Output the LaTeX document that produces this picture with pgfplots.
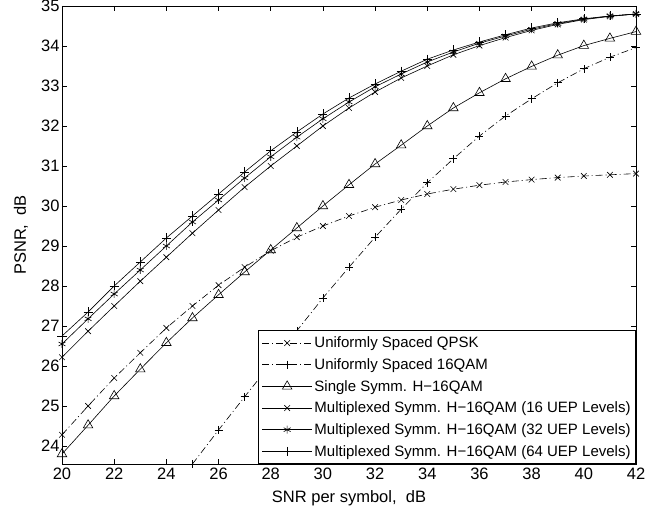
\documentclass[border=0pt]{standalone}
\usepackage{fontspec}
\setmainfont{Liberation Sans}
\usepackage{pgfplots}
\pgfplotsset{compat=1.18}

\pgfplotstableread{
snr   qpsk   qam16   single  mux16  mux32  mux64
20    24.28  nan     23.80   26.22  26.55  26.75
21    25.00  nan     24.52   26.87  27.18  27.35
22    25.70  nan     25.25   27.50  27.80  28.00
23    26.33  nan     25.92   28.12  28.40  28.60
24    26.95  nan     26.58   28.72  29.00  29.20
25    27.50  23.55   27.20   29.32  29.60  29.75
26    28.02  24.40   27.78   29.90  30.15  30.30
27    28.47  25.23   28.35   30.47  30.70  30.85
28    28.88  26.05   28.90   31.00  31.23  31.38
29    29.22  26.88   29.45   31.50  31.72  31.85
30    29.50  27.70   30.00   32.00  32.18  32.30
31    29.75  28.47   30.53   32.45  32.60  32.70
32    29.97  29.22   31.05   32.85  32.98  33.05
33    30.15  29.92   31.52   33.20  33.30  33.37
34    30.30  30.58   32.00   33.50  33.60  33.67
35    30.42  31.18   32.45   33.78  33.85  33.90
36    30.52  31.75   32.83   34.01  34.07  34.10
37    30.60  32.25   33.18   34.21  34.25  34.28
38    30.66  32.68   33.49   34.39  34.42  34.45
39    30.71  33.08   33.77   34.54  34.56  34.58
40    30.75  33.43   34.01   34.66  34.67  34.68
41    30.78  33.72   34.19   34.74  34.75  34.75
42    30.81  33.96   34.36   34.80  34.80  34.80
}\data

\begin{document}
\begin{tikzpicture}
\useasboundingbox (-62pt,-49pt) rectangle (609pt,464pt);
\begin{axis}[
    scale only axis,
    width=574pt, height=458pt,
    at={(0,0)}, anchor=south west,
    xmin=20, xmax=42, ymin=23.55, ymax=35,
    xtick={20,22,...,42}, ytick={24,25,...,35},
    tick align=inside, major tick length=5pt,
    axis line style={line width=0.9pt},
    every tick/.style={black, line width=0.6pt},
    font=\fontsize{16.5}{19}\selectfont,
    /pgf/number format/assume math mode=true,
    tick label style={font=\fontsize{16.5}{19}\selectfont},
    yticklabel style={xshift=1pt},
    xlabel={SNR per symbol, \ dB},
    ylabel={PSNR, \ dB},
    xlabel style={at={(axis description cs:0.5,-0.0742)}, anchor=center},
    ylabel style={at={(axis description cs:-0.0714,0.5)}, anchor=center},
    legend style={at={(1,0)}, anchor=south east, draw=black, line width=0.9pt,
        font=\fontsize{15}{18}\selectfont, cells={anchor=west},
        inner xsep=3pt, inner ysep=4pt, row sep=5.3pt},
    legend image code/.code={
        \draw[mark repeat=2, mark phase=2, line width=0.6pt]
        plot coordinates {(0pt,0pt) (25pt,0pt) (50pt,0pt)};
    },
    every axis plot/.append style={black, line width=0.6pt, mark options={solid, line width=0.6pt}},
    unbounded coords=jump,
]
\addplot[dash pattern=on 7pt off 3pt on 1pt off 3pt, mark=x, mark size=4pt] table[x=snr, y=qpsk] {\data};
\addplot[dash pattern=on 7pt off 3pt on 1pt off 3pt, mark=+, mark size=4pt] table[x=snr, y=qam16] {\data};
\addplot[solid, mark=triangle, mark size=5.5pt] table[x=snr, y=single] {\data};
\addplot[solid, mark=x, mark size=4pt] table[x=snr, y=mux16] {\data};
\addplot[solid, mark=asterisk, mark size=4pt] table[x=snr, y=mux32] {\data};
\addplot[solid, mark=+, mark size=4.5pt] table[x=snr, y=mux64] {\data};
\legend{Uniformly Spaced QPSK, Uniformly Spaced 16QAM, Single Symm. H−16QAM,
    Multiplexed Symm. H−16QAM (16 UEP Levels),
    Multiplexed Symm. H−16QAM (32 UEP Levels),
    Multiplexed Symm. H−16QAM (64 UEP Levels)}
\end{axis}
\end{tikzpicture}
\end{document}
